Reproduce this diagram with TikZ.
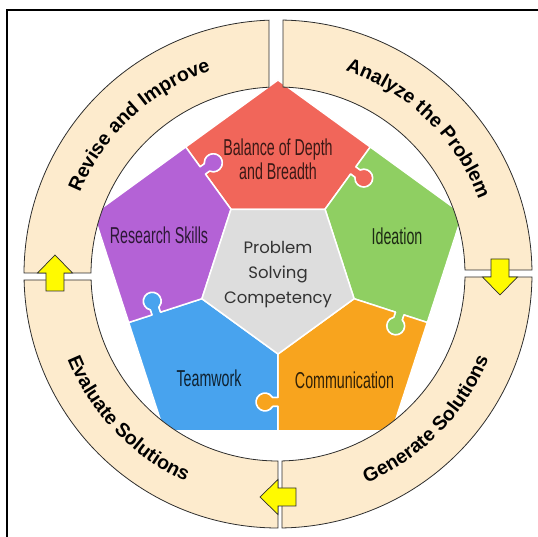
\documentclass[tikz,border=0pt]{standalone}
\usepackage{fontspec}
\setmainfont{Liberation Sans}
\newfontfamily\corefont{Poppins}
\usetikzlibrary{decorations.text}

\definecolor{ringFill}{RGB}{253,235,205}
\definecolor{ringLine}{RGB}{45,45,45}
\definecolor{redPiece}{RGB}{241,102,90}
\definecolor{purplePiece}{RGB}{180,98,214}
\definecolor{greenPiece}{RGB}{143,207,98}
\definecolor{bluePiece}{RGB}{72,163,238}
\definecolor{orangePiece}{RGB}{248,164,30}
\definecolor{corePiece}{RGB}{221,221,221}
\definecolor{arrowYellow}{RGB}{255,250,0}

\newcommand{\narrow}[1]{\scalebox{0.62}[1]{#1}}

\tikzset{
  piece/.style={draw=white, line width=1.5pt, line join=round},
  stage/.style={fill=ringFill, draw=ringLine, line width=0.8pt},
  stagetext/.style={
    decorate,
    decoration={text along path, text align=center,
      text={|\bfseries\fontsize{19.5}{20}\selectfont|#1}}},
  piecelabel/.style={font=\fontsize{23}{24}\selectfont, align=center, inner sep=0pt},
  corelabel/.style={font=\corefont\fontsize{16.5}{25}\selectfont, text=black!80, align=center, inner sep=0pt},
  flowarrow/.pic={
    \draw[fill=arrowYellow, draw=ringLine, line width=0.7pt]
      (-18,-9) -- (0,-9) -- (0,-17.5) -- (18,0) -- (0,17.5) -- (0,9) -- (-18,9) -- cycle;}
}

\begin{document}
\begin{tikzpicture}[x=1pt, y=1pt]
\useasboundingbox (-278,-263) rectangle (260,274);
\draw[line width=1.5pt] (-271,-263) |- (260,264);

\foreach \ang/\col in {90/redPiece, 18/greenPiece, 306/orangePiece, 234/bluePiece, 162/purplePiece}
  \path[piece, fill=\col, rotate=\ang-90]
    {[rotate=54] (80,0) -- (123.5,0) -- (123.5,-5.21)
      arc[start angle=120, end angle=420, radius=9] -- (132.5,0) -- (157,0)}
    -- (90:194)
    {[rotate=126] -- (157,0) -- (132.5,0) -- (132.5,-5.21)
      arc[start angle=60, end angle=-240, radius=9] -- (123.5,0) -- (80,0)}
    -- cycle;
\path[piece, fill=corePiece] (54:80) -- (126:80) -- (198:80) -- (270:80) -- (342:80) -- cycle;

\node[corelabel] (core) at (0,-1) {Problem\\Solving\\Competency};
\node[piecelabel, text=redPiece!25!black] (balance) at (0,115)
  {\narrow{Balance of Depth}\\\narrow{and Breadth}};
\node[piecelabel, text=purplePiece!25!black] (research) at (-119,39) {\narrow{Research Skills}};
\node[piecelabel, text=greenPiece!20!black] (ideation) at (119,38) {\narrow{Ideation}};
\node[piecelabel, text=bluePiece!20!black] (teamwork) at (-69,-104.5) {\narrow{Teamwork}};
\node[piecelabel, text=orangePiece!20!black] (communication) at (66.5,-106.5) {\narrow{Communication}};

\draw[stage] (92.03:254) arc[start angle=92.03, end angle=179.77, radius=254]
  -- (179.69:187) arc[start angle=179.69, end angle=92.76, radius=187] -- cycle;
\draw[stage] (0.90:254) arc[start angle=0.90, end angle=88.87, radius=254]
  -- (88.47:187) arc[start angle=88.47, end angle=1.23, radius=187] -- cycle;
\draw[stage] (-89.10:254) arc[start angle=-89.10, end angle=-0.68, radius=254]
  -- (-0.92:187) arc[start angle=-0.92, end angle=-88.77, radius=187] -- cycle;
\draw[stage] (181.35:254) arc[start angle=181.35, end angle=270, radius=254]
  -- (270:187) arc[start angle=270, end angle=181.84, radius=187] -- cycle;

\path[stagetext={Revise and Improve}] (170:214) arc[start angle=170, end angle=96, radius=214];
\path[stagetext={Analyze the Problem}] (84:214) arc[start angle=84, end angle=8, radius=214];
\path[stagetext={Generate Solutions}] (-82:227) arc[start angle=-82, end angle=-7, radius=227];
\path[stagetext={Evaluate Solutions}] (187:227) arc[start angle=187, end angle=261, radius=227];

\pic[rotate=90] at (-223,1) {flowarrow};
\pic[rotate=-90] at (222,-3) {flowarrow};
\pic[rotate=180] at (0,-223) {flowarrow};
\end{tikzpicture}
\end{document}
